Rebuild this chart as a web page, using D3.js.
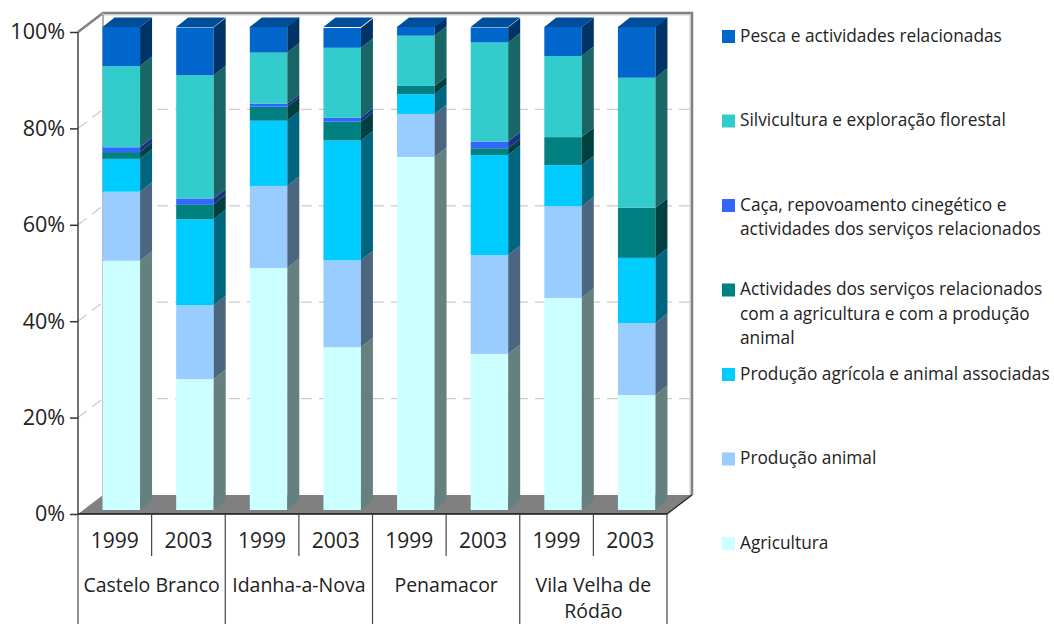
<!DOCTYPE html>
<html>
<head>
<meta charset="utf-8">
<script src="https://cdnjs.cloudflare.com/ajax/libs/d3/7.8.5/d3.min.js"></script>
<style>
  html, body { margin: 0; background: #fff; }
  text { font-family: "Open Sans", sans-serif; fill: #222; }
</style>
</head>
<body>
<div id="chart"></div>
<script>
// Values (percent of each municipality/year total)
const years = ['1999', '2003', '1999', '2003', '1999', '2003', '1999', '2003'];
const places = [['Castelo Branco'], ['Idanha-a-Nova'], ['Penamacor'], ['Vila Velha de', 'Ródão']];

const agricultura = [51.6, 27.1, 50.1, 33.7, 73.1, 32.3, 43.9, 23.8];
const producaoAnimal = [14.3, 15.3, 17.0, 18.0, 8.9, 20.5, 19.0, 14.9];
const associadas = [6.8, 17.8, 13.5, 24.8, 4.1, 20.7, 8.5, 13.5];
const servicos = [1.4, 3.1, 2.9, 3.9, 1.7, 1.4, 5.8, 10.4];
const caca = [1.0, 1.2, 0.6, 0.8, 0, 1.4, 0, 0];
const silvicultura = [16.8, 25.5, 10.6, 14.5, 10.4, 20.5, 16.8, 26.9];
const pesca = [8.1, 9.9, 5.4, 4.1, 1.9, 3.1, 6.0, 10.6];

const seriesNames = [
    ['Agricultura'],
    ['Produção animal'],
    ['Produção agrícola e animal associadas'],
    ['Actividades dos serviços relacionados', 'com a agricultura e com a produção', 'animal'],
    ['Caça, repovoamento cinegético e', 'actividades dos serviços relacionados'],
    ['Silvicultura e exploração florestal'],
    ['Pesca e actividades relacionadas']
];
const seriesValues = [agricultura, producaoAnimal, associadas, servicos, caca, silvicultura, pesca];
const colors = ['#ccffff', '#99ccff', '#00ccff', '#008080', '#3366ff', '#33cccc', '#0066cc'];
const tickValues = [0, 20, 40, 60, 80, 100];

const svg = d3.select('#chart').append('svg')
    .attr('width', 1054)
    .attr('height', 624)
    .style('display', 'block');

const x = d3.scaleBand().domain(d3.range(8)).range([78, 667]);
const y = d3.scaleLinear().domain([0, 100]).range([514, 32]);
const barY = d3.scaleLinear().domain([0, 100]).range([510, 27]);

const wallDx = 25, wallDy = -19;
const barDx = 12, barDy = -9.5;
const barW = 37.5;
const barOff = (x.bandwidth() - barW) / 2 + 6.5;
const right = x.range()[1];

// walls and floor
svg.append('polygon')
    .attr('points', [[78, y(0)], [78 + wallDx, y(0) + wallDy], [right + wallDx, y(0) + wallDy], [right, y(0)]].join(' '))
    .attr('fill', '#808080');

// gridlines on left wall and back wall
tickValues.slice(1, 5).forEach(t => {
    svg.append('line')
        .attr('x1', 78).attr('y1', y(t))
        .attr('x2', 78 + wallDx).attr('y2', y(t) + wallDy)
        .attr('stroke', '#ccc').attr('stroke-width', 1.2).attr('stroke-dasharray', '11 7');
    svg.append('line')
        .attr('x1', 78 + wallDx).attr('y1', y(t) + wallDy)
        .attr('x2', right + wallDx).attr('y2', y(t) + wallDy)
        .attr('stroke', '#ccc').attr('stroke-width', 1.2).attr('stroke-dasharray', '11 7');
});

// wall outline, light line just inside the dark one
svg.append('path')
    .attr('d', `M${78 + wallDx},${y(100) + wallDy + 2}H${right + wallDx - 2}V${y(0) + wallDy}`)
    .attr('fill', 'none').attr('stroke', '#ccc').attr('stroke-width', 1);
svg.append('path')
    .attr('d', `M78,${y(100)}L${78 + wallDx},${y(100) + wallDy}H${right + wallDx}V${y(0) + wallDy}`)
    .attr('fill', 'none').attr('stroke', '#808080').attr('stroke-width', 2.5);
svg.append('line')
    .attr('x1', 78 + wallDx).attr('x2', 78 + wallDx)
    .attr('y1', y(100) + wallDy).attr('y2', y(0) + wallDy)
    .attr('stroke', '#b0b0b0').attr('stroke-width', 2);
svg.append('line')
    .attr('x1', right).attr('x2', right + wallDx)
    .attr('y1', y(0)).attr('y2', y(0) + wallDy)
    .attr('stroke', '#222').attr('stroke-width', 1.2);

// stacked bars
const stack = d3.stack().keys(d3.range(7)).value((d, k) => seriesValues[k][d]);
const layers = stack(d3.range(8));

const barGroups = svg.selectAll('.bar')
    .data(d3.range(8))
    .enter()
    .append('g')
    .attr('class', 'bar');

barGroups.each(function (b) {
    const g = d3.select(this);
    const left = x(b) + barOff;
    layers.forEach((layer, k) => {
        const [y0, y1] = layer[b];
        if (y1 - y0 <= 0) return;
        const c = d3.color(colors[k]);
        g.append('rect')
            .attr('x', left)
            .attr('y', barY(y1))
            .attr('width', barW)
            .attr('height', barY(y0) - barY(y1))
            .attr('fill', colors[k]);
        g.append('polygon')
            .attr('points', [
                [left + barW, barY(y0)],
                [left + barW + barDx, barY(y0) + barDy],
                [left + barW + barDx, barY(y1) + barDy],
                [left + barW, barY(y1)]
            ].join(' '))
            .attr('fill', d3.rgb(c.r / 2, c.g / 2, c.b / 2));
    });
    // top face, only the last series shows it
    const c = d3.color(colors[6]);
    g.append('polygon')
        .attr('points', [
            [left, barY(100)],
            [left + barDx, barY(100) + barDy],
            [left + barW + barDx, barY(100) + barDy],
            [left + barW, barY(100)]
        ].join(' '))
        .attr('fill', d3.rgb(c.r * 0.75, c.g * 0.75, c.b * 0.75));
});

// y axis
const yAxis = svg.append('g')
    .attr('transform', 'translate(78,0)')
    .call(d3.axisLeft(y).tickValues(tickValues).tickFormat(d => d + '%').tickSize(8).tickPadding(5));
yAxis.selectAll('text').attr('font-size', 21.5).style('font-family', '"Open Sans", sans-serif').attr('fill', '#222');
yAxis.selectAll('line').attr('stroke', '#333').attr('stroke-width', 1.5);
yAxis.select('.domain').attr('stroke', '#444').attr('stroke-width', 1.5).attr('d', `M0,${y(100)}V${y(0)}`);

// x axis with two levels of categories
svg.append('line')
    .attr('x1', 78).attr('x2', right)
    .attr('y1', y(0)).attr('y2', y(0))
    .attr('stroke', '#111').attr('stroke-width', 1.5);

svg.selectAll('.year')
    .data(years)
    .enter()
    .append('text')
    .attr('class', 'year')
    .attr('x', (d, i) => x(i) + x.bandwidth() / 2)
    .attr('y', 548)
    .attr('text-anchor', 'middle')
    .attr('font-size', 21)
    .text(d => d);

d3.range(1, 8).filter(i => i % 2 === 1).forEach(i => {
    svg.append('line')
        .attr('x1', x(i)).attr('x2', x(i))
        .attr('y1', y(0)).attr('y2', 556)
        .attr('stroke', '#444').attr('stroke-width', 1.2);
});
d3.range(0, 9, 2).forEach(i => {
    const px = i === 8 ? right : x(i);
    svg.append('line')
        .attr('x1', px).attr('x2', px)
        .attr('y1', y(0)).attr('y2', 624)
        .attr('stroke', '#444').attr('stroke-width', 1.2);
});

places.forEach((lines, p) => {
    const cx = x(p * 2) + x.bandwidth();
    lines.forEach((line, l) => {
        svg.append('text')
            .attr('x', cx)
            .attr('y', 592 + l * 26)
            .attr('text-anchor', 'middle')
            .attr('font-size', 19.5)
            .text(line);
    });
});

// legend, top entry is the last series; first text line sits level with the swatch
const legendY = d3.scalePoint().domain(d3.range(7)).range([36.5, 543.5]);
const legend = svg.selectAll('.legend')
    .data(d3.range(6, -1, -1))
    .enter()
    .append('g')
    .attr('class', 'legend')
    .attr('transform', (d, i) => `translate(722,${legendY(i)})`);

legend.append('rect')
    .attr('x', 0).attr('y', -6.5)
    .attr('width', 13).attr('height', 13)
    .attr('fill', d => colors[d]);

legend.each(function (d) {
    const g = d3.select(this);
    seriesNames[d].forEach((line, l) => {
        g.append('text')
            .attr('x', 18)
            .attr('y', l * 24.5 + 5)
            .attr('font-size', 17.3)
            .text(line);
    });
});
</script>
</body>
</html>
